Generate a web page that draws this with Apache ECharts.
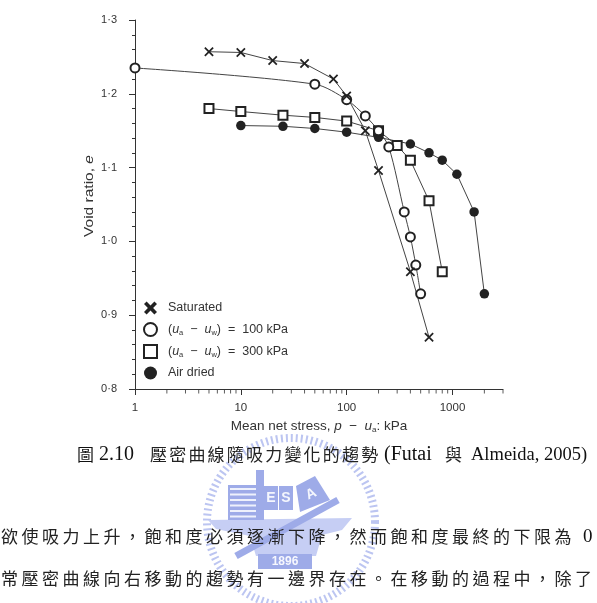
<!DOCTYPE html>
<html>
<head>
<meta charset="utf-8">
<script src="https://cdn.jsdelivr.net/npm/echarts@6/dist/echarts.min.js"></script>
<style>html,body{margin:0;padding:0;background:#fff;}#c{width:597px;height:603px;}</style>
</head>
<body>
<div id="c"></div>
<script>
// ---- data ----
const satX  = [5, 10, 20, 40, 75, 100, 150, 200, 400, 600];
const satE  = [1.257, 1.256, 1.245, 1.241, 1.220, 1.197, 1.150, 1.096, 0.959, 0.870];
const s100X = [1, 50, 100, 150, 200, 250, 350, 400, 450, 500];
const s100E = [1.235, 1.213, 1.192, 1.170, 1.150, 1.128, 1.040, 1.006, 0.968, 0.929];
const s300X = [5, 10, 25, 50, 100, 200, 300, 400, 600, 800];
const s300E = [1.180, 1.176, 1.171, 1.168, 1.163, 1.150, 1.130, 1.110, 1.055, 0.959];
const airX  = [10, 25, 50, 100, 200, 400, 600, 800, 1100, 1600, 2000];
const airE  = [1.157, 1.156, 1.153, 1.148, 1.141, 1.132, 1.120, 1.110, 1.091, 1.040, 0.929];
const seriesNames = ['Saturated', 's100', 's300', 'Air dried'];
const legendLabels = {
  'Saturated': 'Saturated',
  's100': '({i|u}{s|a}  −  {i|u}{s|w})  =  100 kPa',
  's300': '({i|u}{s|a}  −  {i|u}{s|w})  =  300 kPa',
  'Air dried': 'Air dried'
};
const xMinorTicks = [2,3,4,5,6,7,8,9,20,30,40,50,60,70,80,90,200,300,400,500,600,700,800,900,2000,3000];
const yTitle = 'Void ratio, {i|e}';
const xTitle = 'Mean net stress, {i|p}  −  {i|u}{s|a}: kPa';
const captionCJK = '壓密曲線隨吸力變化的趨勢';
const bodyLine1 = '欲使吸力上升，飽和度必須逐漸下降，然而飽和度最終的下限為';
const bodyLine2 = '常壓密曲線向右移動的趨勢有一邊界存在。在移動的過程中，除了';

const pairs = (xs, ys) => xs.map((x, i) => [x, ys[i]]);
const xPath = 'path://M0,1.3L1.3,0L5,3.7L8.7,0L10,1.3L6.3,5L10,8.7L8.7,10L5,6.3L1.3,10L0,8.7L3.7,5Z';
const xPathBold = 'path://M0,2L2,0L5,3L8,0L10,2L7,5L10,8L8,10L5,7L2,10L0,8L3,5Z';
const INK = '#222';
const LINE = '#444';
const FONT = 'Liberation Sans, Arial, sans-serif';
const TXT = '#333';

const chart = echarts.init(document.getElementById('c'), null, {renderer: 'canvas'});

// ---- watermark ----
const WM = '#bcc5f1', WM2 = '#9eabe8', WM3 = '#c6cef4';
const graphics = [];
graphics.push({type:'circle', shape:{cx:291, cy:522, r:84}, style:{fill:'none', stroke:WM, lineWidth:8, lineDash:[2,3]}, z:0, silent:true});
graphics.push({type:'polygon', shape:{points:[[208,520],[352,518],[342,530],[322,535],[316,556],[256,556],[250,536],[216,529]]}, style:{fill:WM3}, z:0, silent:true});
graphics.push({type:'rect', shape:{x:228, y:485, width:30, height:35}, style:{fill:WM2}, z:0, silent:true});
for (let k = 0; k < 6; k++) {
  graphics.push({type:'rect', shape:{x:230, y:488 + k*5.5, width:26, height:2}, style:{fill:'#eef1fc'}, z:0, silent:true});
}
graphics.push({type:'rect', shape:{x:256, y:470, width:8, height:50}, style:{fill:WM2}, z:0, silent:true});
graphics.push({type:'rect', shape:{x:264, y:486, width:14, height:24}, style:{fill:WM2}, z:0, silent:true});
graphics.push({type:'rect', shape:{x:279, y:486, width:14, height:24}, style:{fill:WM2}, z:0, silent:true});
graphics.push({type:'text', style:{x:271, y:498, text:'E', fill:'#f4f6fd', font:'bold 14px Liberation Sans', align:'center', verticalAlign:'middle'}, z:0, silent:true});
graphics.push({type:'text', style:{x:286, y:498, text:'S', fill:'#f4f6fd', font:'bold 14px Liberation Sans', align:'center', verticalAlign:'middle'}, z:0, silent:true});
graphics.push({type:'polygon', shape:{points:[[296,486],[315,476],[330,500],[300,512]]}, style:{fill:WM2}, z:0, silent:true});
graphics.push({type:'text', rotation:0.45, x:311, y:494, style:{x:0, y:0, text:'A', fill:'#f4f6fd', font:'bold 14px Liberation Sans', align:'center', verticalAlign:'middle'}, z:0, silent:true});
graphics.push({type:'line', shape:{x1:236, y1:556, x2:338, y2:500}, style:{stroke:WM2, lineWidth:7}, z:0, silent:true});
graphics.push({type:'rect', shape:{x:258, y:554, width:54, height:15}, style:{fill:WM2}, z:0, silent:true});
graphics.push({type:'text', style:{x:285, y:562, text:'1896', fill:'#f7f8fe', font:'bold 12px Liberation Sans', align:'center', verticalAlign:'middle'}, z:0, silent:true});

// ---- y-axis title (stretched along its length like the scanned figure) ----
graphics.push({type:'text', z:5, silent:true, x:89, y:196, rotation:Math.PI/2, scaleX:1.15,
  style:{x:0, y:0, text:yTitle, align:'center', verticalAlign:'middle', fill:TXT, font:'13.5px ' + FONT,
    rich:{i:{fontStyle:'italic', fontSize:13.5, fontFamily:FONT, fill:TXT}}}});

// ---- caption ----
const cjk = 'Noto Sans CJK TC';
graphics.push({type:'text', z:5, silent:true, style:{x:77, y:455, text:'圖', verticalAlign:'middle', fill:'#111', font:'17px ' + cjk}});
graphics.push({type:'text', z:5, silent:true, style:{x:99, y:455, text:'2.10', verticalAlign:'middle', fill:'#111', font:'20px Liberation Serif'}});
[...captionCJK].forEach((ch, i) => {
  graphics.push({type:'text', z:5, silent:true, style:{x:150 + i*19.2, y:455, text:ch, verticalAlign:'middle', fill:'#222', font:'17px ' + cjk}});
});
graphics.push({type:'text', z:5, silent:true, style:{x:384, y:455, text:'(Futai', verticalAlign:'middle', fill:'#111', font:'20px Liberation Serif'}});
graphics.push({type:'text', z:5, silent:true, style:{x:445, y:455, text:'與', verticalAlign:'middle', fill:'#222', font:'17px ' + cjk}});
graphics.push({type:'text', z:5, silent:true, style:{x:471, y:455, text:'Almeida, 2005)', verticalAlign:'middle', fill:'#111', font:'18.5px Liberation Serif'}});

const pitch = 20.5;
[...bodyLine1].forEach((ch, i) => {
  graphics.push({type:'text', z:5, silent:true, style:{x:1 + i*pitch, y:537, text:ch, verticalAlign:'middle', fill:'#222', font:'17px ' + cjk}});
});
graphics.push({type:'text', z:5, silent:true, style:{x:1 + bodyLine1.length*pitch + 8, y:537, text:'0', verticalAlign:'middle', fill:'#111', font:'19px Liberation Serif'}});
[...bodyLine2].forEach((ch, i) => {
  graphics.push({type:'text', z:5, silent:true, style:{x:1 + i*pitch, y:579, text:ch, verticalAlign:'middle', fill:'#222', font:'17px ' + cjk}});
});

const baseLine = (name, data, symbol, size, extra) => Object.assign({
  name, type:'line', data, symbol, symbolSize:size, showSymbol:true,
  lineStyle:{color:LINE, width:1}, itemStyle:{color:INK, borderColor:INK, borderWidth:1.4},
  emphasis:{disabled:true}, z:3
}, extra || {});

const subRich = {
  i:{fontStyle:'italic', fontSize:12.5, color:TXT, lineHeight:14, fontFamily:FONT},
  s:{fontSize:7.5, lineHeight:7, verticalAlign:'bottom', color:TXT, fontFamily:FONT}
};

const option = {
  animation:false,
  backgroundColor:'#fff',
  grid:{left:135, right:94, top:20, bottom:214, containLabel:false},
  legend:{
    orient:'vertical', left:138, top:296, itemWidth:13, itemHeight:13, itemGap:7,
    selectedMode:false,
    data:[
      {name:'Saturated', icon:xPathBold, itemStyle:{color:INK, borderWidth:0}},
      {name:'s100', icon:'circle', itemStyle:{color:'#fff', borderColor:INK, borderWidth:2}},
      {name:'s300', icon:'rect', itemStyle:{color:'#fff', borderColor:INK, borderWidth:2}},
      {name:'Air dried', icon:'circle', itemStyle:{color:INK, borderWidth:0}}
    ],
    formatter: n => legendLabels[n],
    textStyle:{fontFamily:FONT, fontSize:12.5, color:TXT, lineHeight:14, padding:[0,0,0,6], rich:subRich}
  },
  xAxis:{
    type:'log', logBase:10, min:1, max:3000,
    name:xTitle, nameLocation:'middle', nameGap:30,
    nameTextStyle:{fontFamily:FONT, fontSize:13.5, color:TXT, lineHeight:15,
      rich:{i:{fontStyle:'italic', fontSize:13.5, color:TXT, lineHeight:15, fontFamily:FONT},
            s:{fontSize:8, lineHeight:8, verticalAlign:'bottom', color:TXT, fontFamily:FONT}}},
    axisLine:{lineStyle:{color:'#333', width:1}},
    axisTick:{show:true, length:6, lineStyle:{color:'#333'}},
    axisLabel:{fontFamily:FONT, fontSize:11.5, color:TXT, margin:13, showMaxLabel:false,
      formatter: v => (Math.abs(Math.log10(v) - Math.round(Math.log10(v))) < 1e-6 ? String(Math.round(v)) : '')},
    splitLine:{show:false}
  },
  yAxis:{
    type:'value', min:0.8, max:1.3, interval:0.1,
    axisLine:{show:true, lineStyle:{color:'#333', width:1}},
    axisTick:{show:true, length:6, lineStyle:{color:'#333'}},
    minorTick:{show:true, splitNumber:5, length:3, lineStyle:{color:'#333'}},
    axisLabel:{fontFamily:FONT, fontSize:11, color:TXT, margin:18, formatter: v => v.toFixed(1).replace('.', '·')},
    splitLine:{show:false}
  },
  series:[
    baseLine('s300', pairs(s300X, s300E), 'emptyRect', 9, {itemStyle:{color:INK, borderColor:INK, borderWidth:1.5}}),
    baseLine('Air dried', pairs(airX, airE), 'circle', 9.5, {itemStyle:{color:INK, borderWidth:0}}),
    baseLine('s100', pairs(s100X, s100E), 'emptyCircle', 9, {smooth:0.3, itemStyle:{color:INK, borderColor:INK, borderWidth:1.5}}),
    baseLine('Saturated', pairs(satX, satE), xPath, 9.5, {itemStyle:{color:INK, borderWidth:0}}),
    {
      name:'xMinorTicks', type:'scatter', silent:true, clip:false, z:2,
      data: xMinorTicks.map(v => [v, 0.8]),
      symbol:'rect', symbolSize:[1, 4], symbolOffset:[0, 2.5],
      itemStyle:{color:'#333'}, emphasis:{disabled:true}, tooltip:{show:false}
    }
  ],
  graphic: graphics
};
chart.setOption(option);
</script>
</body>
</html>
